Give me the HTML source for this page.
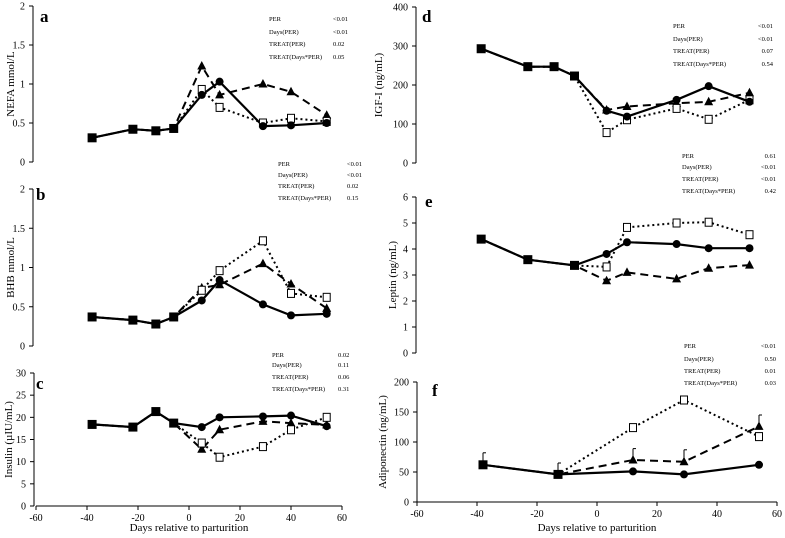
<!DOCTYPE html>
<html><head><meta charset="utf-8"><style>
body{margin:0;background:#fff;}
svg{display:block;font-family:"Liberation Serif",serif;}
</style></head><body>
<svg id="chart" width="785" height="538" viewBox="0 0 785 538" xmlns="http://www.w3.org/2000/svg"></svg>
<script>
// ---- data ----
const daysA = [-38,-22,-13,-6,5,12,29,40,54];
const nefaCtrl = [0.31,0.42,0.40,0.43,0.86,1.03,0.46,0.47,0.50];
const nefaTri  = [0.31,0.42,0.40,0.43,1.23,0.86,1.00,0.90,0.60];
const nefaSq   = [0.31,0.42,0.40,0.43,0.93,0.70,0.50,0.56,0.52];
const bhbCtrl = [0.37,0.33,0.28,0.37,0.58,0.84,0.53,0.39,0.41];
const bhbTri  = [0.37,0.33,0.28,0.37,0.74,0.78,1.05,0.79,0.48];
const bhbSq   = [0.37,0.33,0.28,0.37,0.71,0.96,1.34,0.67,0.62];
const insCtrl = [18.4,17.8,21.3,18.7,17.8,20.0,20.2,20.4,18.0];
const insTri  = [18.4,17.8,21.3,18.7,12.8,17.2,19.1,18.7,18.3];
const insSq   = [18.4,17.8,21.3,18.7,14.2,11.0,13.4,17.2,20.0];
const igfCtrl = [293,247,247,223,134,119,162,197,157];
const igfTri  = [293,247,247,223,136,145,153,157,180];
const igfSq   = [293,247,247,223,78,111,140,112,162];
const daysE = [-38,-22,-6,5,12,29,40,54];
const lepCtrl = [4.38,3.59,3.37,3.81,4.26,4.19,4.03,4.03];
const lepTri  = [4.38,3.59,3.37,2.78,3.10,2.85,3.26,3.38];
const lepSq   = [4.38,3.59,3.37,3.31,4.83,5.00,5.03,4.55];
const daysF = [-38,-13,12,29,54];
const adiCtrl = [62,46,51,46,62];
const adiTri  = [62,46,70,67,126];
const adiSq   = [62,46,124,170,109];
const adiErrTri = [20,19,19,20,19];
const xTicks = [-60,-40,-20,0,20,40,60];
const statLabels = ["PER","Days(PER)","TREAT(PER)","TREAT(Days*PER)"];

const NS="http://www.w3.org/2000/svg";
const svg=document.getElementById('chart');
function el(tag,attrs,parent){const e=document.createElementNS(NS,tag);for(const k in attrs)e.setAttribute(k,attrs[k]);(parent||svg).appendChild(e);return e;}

const panels=[
 {id:'a',x0:36,x1:342,yTop:6,yBot:162,ymax:2,ticks:[0,0.5,1,1.5,2],fmt:v=>String(v),title:'NEFA mmol/L',tx:14,days:daysA,c:nefaCtrl,t:nefaTri,s:nefaSq,axisX:33,letter:[40,22],xaxis:false,
  stats:{lx:269,vx:333,anchor:'start',ys:[19,32,44,57],vals:["<0.01","<0.01","0.02","0.05"]}},
 {id:'b',x0:36,x1:342,yTop:189,yBot:346,ymax:2,ticks:[0,0.5,1,1.5,2],fmt:v=>String(v),title:'BHB mmol/L',tx:14,days:daysA,c:bhbCtrl,t:bhbTri,s:bhbSq,axisX:33,letter:[36,200],xaxis:false,
  stats:{lx:278,vx:347,anchor:'start',ys:[164,175,186,198],vals:["<0.01","<0.01","0.02","0.15"]}},
 {id:'c',x0:36,x1:342,yTop:373,yBot:506,ymax:30,ticks:[0,5,10,15,20,25,30],fmt:v=>String(v),title:'Insulin (µIU/mL)',tx:12,days:daysA,c:insCtrl,t:insTri,s:insSq,axisX:34,letter:[36,389],xaxis:true,
  stats:{lx:272,vx:338,anchor:'start',ys:[355,365,377,389],vals:["0.02","0.11","0.06","0.31"]}},
 {id:'d',x0:417,x1:767,yTop:7,yBot:163,ymax:400,ticks:[0,100,200,300,400],fmt:v=>String(v),title:'IGF-I (ng/mL)',tx:382,days:daysA,c:igfCtrl,t:igfTri,s:igfSq,axisX:416,letter:[422,22],xaxis:false,
  stats:{lx:673,vx:773,anchor:'end',ys:[26,39,51,64],vals:["<0.01","<0.01","0.07","0.54"]}},
 {id:'e',x0:417,x1:767,yTop:197,yBot:353,ymax:6,ticks:[0,1,2,3,4,5,6],fmt:v=>String(v),title:'Leptin (ng/mL)',tx:396,days:daysE,c:lepCtrl,t:lepTri,s:lepSq,axisX:416,letter:[425,207],xaxis:false,
  stats:{lx:682,vx:776,anchor:'end',ys:[156,167,179,191],vals:["0.61","<0.01","<0.01","0.42"]}},
 {id:'f',x0:417,x1:777,yTop:382,yBot:502,ymax:200,ticks:[0,50,100,150,200],fmt:v=>String(v),title:'Adiponectin (ng/mL)',tx:386,days:daysF,c:adiCtrl,t:adiTri,s:adiSq,axisX:417,letter:[432,396],xaxis:true,errT:adiErrTri,
  stats:{lx:684,vx:776,anchor:'end',ys:[346,359,371,383],vals:["<0.01","0.50","0.01","0.03"]}}
];

panels.forEach(p=>{
 const g=el('g',{});
 
 
 const X=d=>p.x0+(d+60)/120*(p.x1-p.x0);
 const Y=v=>p.yBot-v/p.ymax*(p.yBot-p.yTop);
 const ax=el('line',{x1:p.axisX,x2:p.axisX,y1:p.yTop,y2:p.yBot,stroke:'#000','stroke-width':1},g);
 
 
 p.ticks.forEach(v=>{
  el('line',{x1:p.axisX-4,x2:p.axisX,y1:Y(v),y2:Y(v),stroke:'#000'},g);
  const t=el('text',{x:p.axisX-8,y:Y(v)+3.5,'font-size':10,'text-anchor':'end'},g);
  t.textContent=p.fmt(v);
  
  
 });
 if(p.xaxis){
  el('line',{x1:p.x0,x2:p.x1,y1:p.yBot,y2:p.yBot,stroke:'#000'},g);
  xTicks.forEach(d=>{
   el('line',{x1:X(d),x2:X(d),y1:p.yBot,y2:p.yBot+4,stroke:'#000'},g);
   const t=el('text',{x:X(d),y:p.yBot+15,'font-size':10,'text-anchor':'middle'},g);
   t.textContent=String(d);
   
   
  });
  const xt=el('text',{x:(p.x0+p.x1)/2,y:531,'font-size':11,'text-anchor':'middle'},g);
  xt.textContent='Days relative to parturition';
  
  
 }
 const cy=(p.yTop+p.yBot)/2;
 const yt=el('text',{x:p.tx,y:cy,'font-size':11,'text-anchor':'middle',transform:`rotate(-90 ${p.tx} ${cy})`},g);
 yt.textContent=p.title;
 
 
 const lt=el('text',{x:p.letter[0],y:p.letter[1],'font-size':17,'font-weight':'bold'},g);
 lt.textContent=p.id;
 
 
 statLabels.forEach((s,i)=>{
  const a=el('text',{x:p.stats.lx,y:p.stats.ys[i]+2,'font-size':6.5},g);
  a.textContent=s;
  
  
  const b=el('text',{x:p.stats.vx,y:p.stats.ys[i]+2,'font-size':6.5,'text-anchor':p.stats.anchor},g);
  b.textContent=p.stats.vals[i];
  
  
 });
 // series lines
 const path=arr=>arr.map((v,i)=>(i?'L':'M')+X(p.days[i]).toFixed(1)+' '+Y(v).toFixed(1)).join(' ');
 const ls=el('path',{d:path(p.s),fill:'none',stroke:'#000','stroke-width':2,'stroke-dasharray':'2 3'},g);
 
 
 const lt2=el('path',{d:path(p.t),fill:'none',stroke:'#000','stroke-width':2,'stroke-dasharray':'8 5'},g);
 
 
 const lc=el('path',{d:path(p.c),fill:'none',stroke:'#000','stroke-width':2.2},g);
 
 
 // markers
 p.days.forEach((d,i)=>{
  if(d>0){
   if(p.errT){el('line',{x1:X(d),x2:X(d),y1:Y(p.t[i]),y2:Y(p.t[i]+p.errT[i]),stroke:'#000'},g);
     el('line',{x1:X(d),x2:X(d)+3,y1:Y(p.t[i]+p.errT[i]),y2:Y(p.t[i]+p.errT[i]),stroke:'#000'},g);}
   const x=X(d),y=Y(p.t[i]);
   const tr=el('path',{d:`M${x} ${y-5} L${x+4.5} ${y+3.5} L${x-4.5} ${y+3.5}Z`,fill:'#000'},g);
   
   
   const sq=el('rect',{x:X(d)-3.5,y:Y(p.s[i])-4,width:7,height:8,fill:'#fff',stroke:'#000','stroke-width':1},g);
   
   
   const c=el('circle',{cx:X(d),cy:Y(p.c[i]),r:4,fill:'#000'},g);
   
   
  } else {
   if(p.errT){el('line',{x1:X(d),x2:X(d),y1:Y(p.c[i]),y2:Y(p.c[i]+p.errT[i]),stroke:'#000'},g);
     el('line',{x1:X(d),x2:X(d)+3,y1:Y(p.c[i]+p.errT[i]),y2:Y(p.c[i]+p.errT[i]),stroke:'#000'},g);}
   const r=el('rect',{x:X(d)-4.5,y:Y(p.c[i])-4.5,width:9,height:9,fill:'#000'},g);
   
   
  }
 });
});
</script>
</body></html>
